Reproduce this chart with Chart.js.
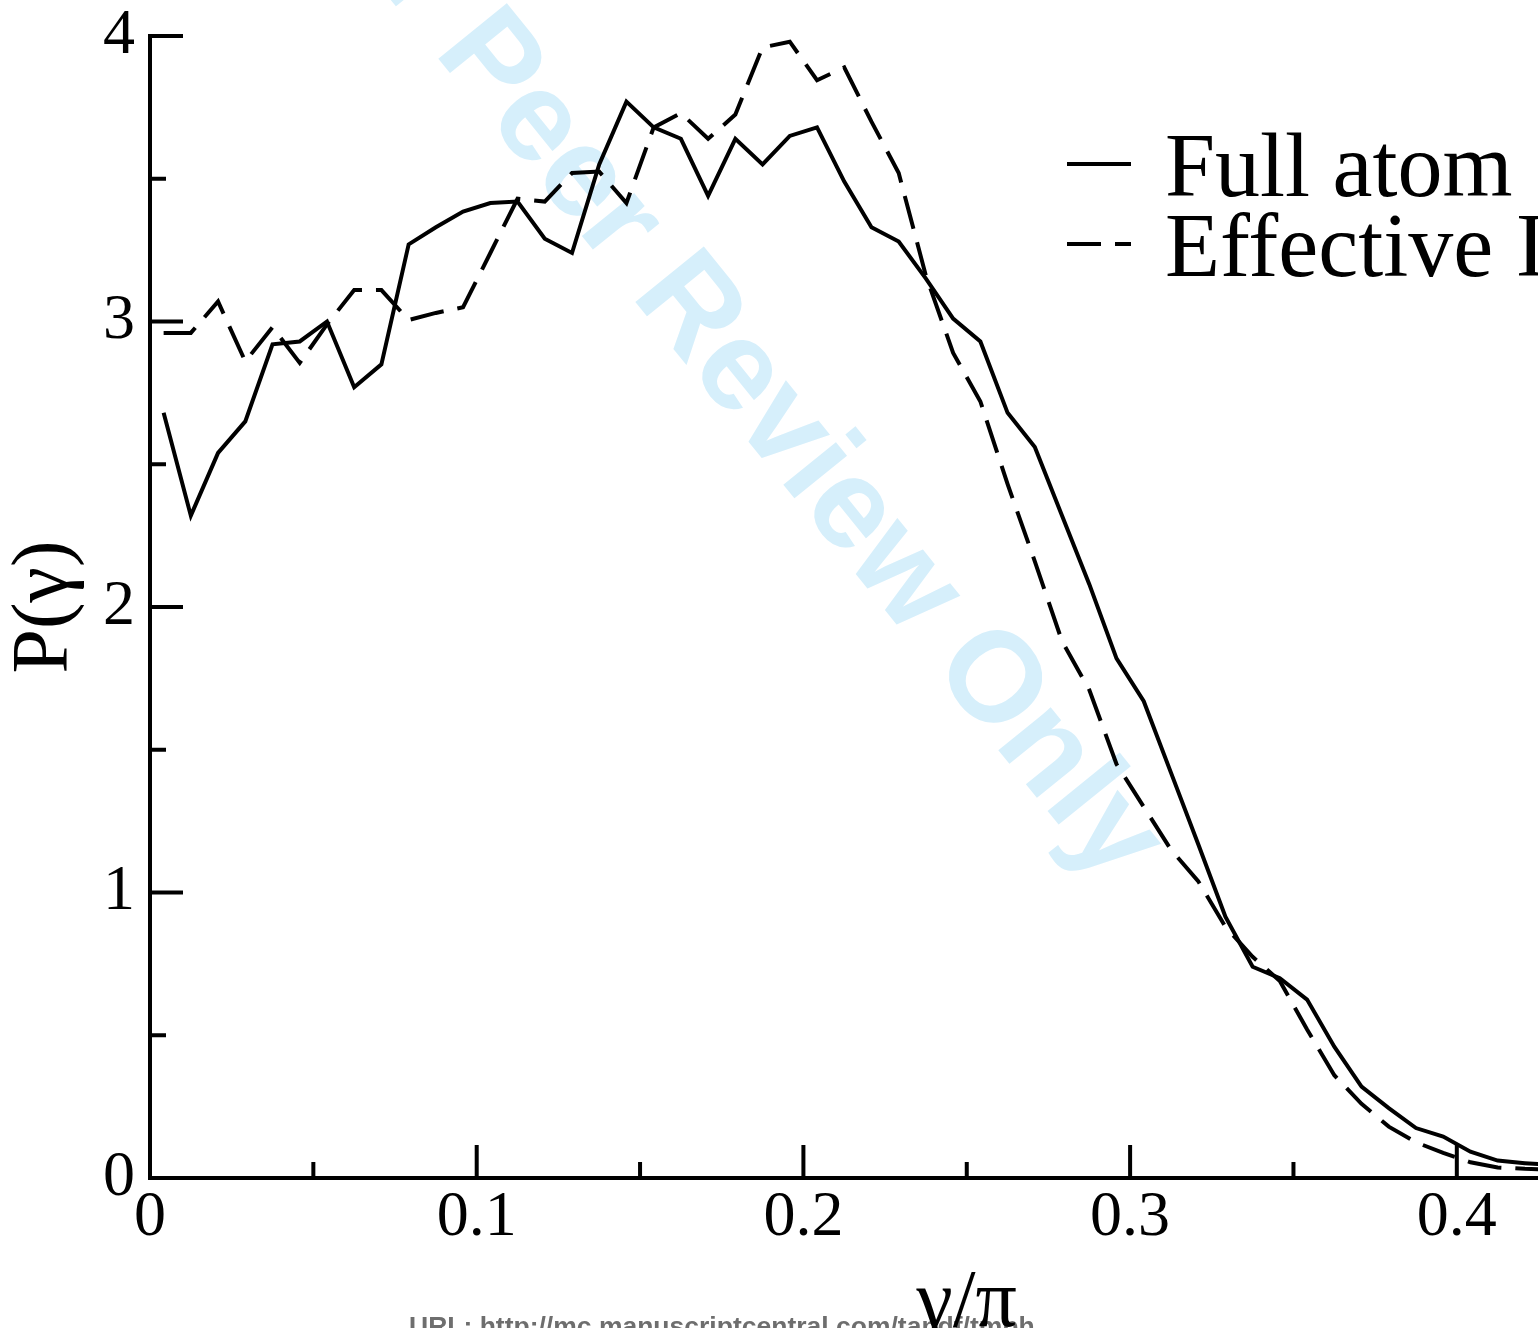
<!DOCTYPE html>
<html>
<head>
<meta charset="utf-8">
<script src="https://cdn.jsdelivr.net/npm/chart.js@4.4.1/dist/chart.umd.min.js"></script>
<style>
html, body { margin: 0; padding: 0; background: #fff; overflow: hidden; }
#wrap { width: 1538px; height: 1328px; position: relative; }
</style>
</head>
<body>
<div id="wrap"><canvas id="angleChart"></canvas></div>
<script>
// bin centres (gamma / pi)
const gammaOverPi = [
    0.00417, 0.0125, 0.02083, 0.02917, 0.0375, 0.04583, 0.05417, 0.0625, 0.07083, 0.07917,
    0.0875, 0.09583, 0.10417, 0.1125, 0.12083, 0.12917, 0.1375, 0.14583, 0.15417, 0.1625,
    0.17083, 0.17917, 0.1875, 0.19583, 0.20417, 0.2125, 0.22083, 0.22917, 0.2375, 0.24583,
    0.25417, 0.2625, 0.27083, 0.27917, 0.2875, 0.29583, 0.30417, 0.3125, 0.32083, 0.32917,
    0.3375, 0.34583, 0.35417, 0.3625, 0.37083, 0.37917, 0.3875, 0.39583, 0.40417, 0.4125,
    0.42083, 0.42917
];
const fullAtom = [
    2.68, 2.32, 2.54, 2.65, 2.92, 2.93, 3.00, 2.77, 2.85, 3.27,
    3.33, 3.385, 3.415, 3.42, 3.29, 3.24, 3.55, 3.77, 3.68, 3.64,
    3.44, 3.64, 3.55, 3.65, 3.68, 3.49, 3.33, 3.28, 3.15, 3.01,
    2.93, 2.68, 2.56, 2.32, 2.08, 1.82, 1.67, 1.42, 1.17, 0.915,
    0.74, 0.70, 0.625, 0.46, 0.32, 0.245, 0.175, 0.145, 0.092, 0.061,
    0.052, 0.045
];
const effective = [
    2.96, 2.96, 3.07, 2.86, 2.98, 2.855, 2.99, 3.11, 3.11, 3.005,
    3.03, 3.05, 3.24, 3.43, 3.42, 3.52, 3.525, 3.415, 3.68, 3.73,
    3.64, 3.725, 3.96, 3.98, 3.845, 3.89, 3.70, 3.52, 3.16, 2.89,
    2.72, 2.43, 2.16, 1.88, 1.71, 1.45, 1.30, 1.15, 1.04, 0.88,
    0.775, 0.69, 0.52, 0.36, 0.26, 0.18, 0.125, 0.088, 0.055, 0.037,
    0.032, 0.03
];
const seriesLabels = ['Full atom', 'Effective Interaction'];
const xTickValues = [0, 0.1, 0.2, 0.3, 0.4];
const xMinorTicks = [0.05, 0.15, 0.25, 0.35];
const yTickValues = [0, 1, 2, 3, 4];
const yMinorTicks = [0.5, 1.5, 2.5, 3.5];

const serif = '"Liberation Serif", "Times New Roman", serif';

// inward ticks, legend, x title, watermark and footer
const decorations = {
    id: 'decorations',
    beforeDatasetsDraw(chart) {
        const ctx = chart.ctx;
        ctx.save();
        ctx.translate(433, 52);
        ctx.rotate(51 * Math.PI / 180);
        ctx.font = 'bold 128px "Liberation Sans", Arial, sans-serif';
        ctx.fillStyle = 'rgb(214, 239, 251)';
        ctx.textBaseline = 'alphabetic';
        const pre = ctx.measureText('For ').width;
        ctx.fillText('For Peer Review Only', -pre, 0);
        ctx.restore();
    },
    afterDraw(chart) {
        const ctx = chart.ctx;
        const xs = chart.scales.x;
        const ys = chart.scales.y;
        const area = chart.chartArea;
        ctx.save();
        ctx.strokeStyle = '#000';
        ctx.lineWidth = 4;
        ctx.lineCap = 'butt';
        ctx.beginPath();
        yTickValues.forEach(v => {
            const p = ys.getPixelForValue(v);
            ctx.moveTo(area.left, p); ctx.lineTo(area.left + 33, p);
        });
        yMinorTicks.forEach(v => {
            const p = ys.getPixelForValue(v);
            ctx.moveTo(area.left, p); ctx.lineTo(area.left + 16, p);
        });
        xTickValues.forEach(v => {
            const p = xs.getPixelForValue(v);
            ctx.moveTo(p, area.bottom); ctx.lineTo(p, area.bottom - 33);
        });
        xMinorTicks.forEach(v => {
            const p = xs.getPixelForValue(v);
            ctx.moveTo(p, area.bottom); ctx.lineTo(p, area.bottom - 16);
        });
        ctx.stroke();

        // legend
        chart.data.datasets.forEach((ds, i) => {
            const ly = 164 + 80 * i;
            ctx.beginPath();
            ctx.setLineDash(ds.borderDash || []);
            ctx.lineWidth = 4;
            ctx.moveTo(1067, ly);
            ctx.lineTo(1131, ly);
            ctx.stroke();
            ctx.setLineDash([]);
            ctx.fillStyle = '#000';
            ctx.font = '90px ' + serif;
            ctx.textAlign = 'left';
            ctx.textBaseline = 'alphabetic';
            ctx.fillText(ds.label, 1165, 196 + 80 * i);
        });

        // footer line of the manuscript page
        ctx.font = 'bold 26.5px "Liberation Sans", Arial, sans-serif';
        ctx.fillStyle = '#6e6e6e';
        ctx.textAlign = 'left';
        ctx.fillText('URL: http://mc.manuscriptcentral.com/tandf/tmph', 409, 1335);

        // x axis title, centred on the original (uncropped) axis
        ctx.font = '82px ' + serif;
        ctx.fillStyle = '#000';
        ctx.textAlign = 'center';
        ctx.fillText('γ/π', xs.getPixelForValue(0.25), 1326);
        ctx.restore();
    }
};

const ctx = document.getElementById('angleChart').getContext('2d');
const angleChart = new Chart(ctx, {
    type: 'line',
    data: {
        datasets: [
            {
                label: seriesLabels[0],
                data: gammaOverPi.map((x, i) => ({ x: x, y: fullAtom[i] })),
                borderColor: '#000',
                borderWidth: 4,
                borderJoinStyle: 'miter',
                pointRadius: 0,
                fill: false,
                tension: 0
            },
            {
                label: seriesLabels[1],
                data: gammaOverPi.map((x, i) => ({ x: x, y: effective[i] })),
                borderColor: '#000',
                borderWidth: 4,
                borderDash: [34, 14],
                borderJoinStyle: 'miter',
                pointRadius: 0,
                fill: false,
                tension: 0
            }
        ]
    },
    options: {
        responsive: true,
        maintainAspectRatio: false,
        animation: false,
        devicePixelRatio: 1,
        layout: { padding: { top: 36, right: 0, bottom: 0, left: 0 } },
        plugins: {
            legend: { display: false },
            tooltip: { enabled: false }
        },
        scales: {
            x: {
                type: 'linear',
                min: 0,
                max: 0.42485,
                afterBuildTicks: s => { s.ticks = xTickValues.map(v => ({ value: v })); },
                afterFit: s => { s.height = 150; s.paddingRight = 0; },
                grid: { display: false, drawTicks: false },
                border: { display: true, color: '#000', width: 4 },
                ticks: {
                    color: '#000',
                    font: { family: serif, size: 64, lineHeight: 1 },
                    padding: 8,
                    maxRotation: 0,
                    autoSkip: false,
                    callback: v => String(v)
                }
            },
            y: {
                min: 0,
                max: 4,
                afterBuildTicks: s => { s.ticks = yTickValues.map(v => ({ value: v })); },
                afterFit: s => { s.width = 150; s.paddingTop = 0; s.paddingBottom = 0; },
                grid: { display: false, drawTicks: false },
                border: { display: true, color: '#000', width: 4 },
                ticks: {
                    color: '#000',
                    font: { family: serif, size: 64, lineHeight: 1 },
                    padding: 15,
                    callback: v => String(v)
                },
                title: {
                    display: true,
                    text: 'P(γ)',
                    color: '#000',
                    font: { family: serif, size: 80, lineHeight: 1 },
                    padding: { top: 6, bottom: 0 }
                }
            }
        }
    },
    plugins: [decorations]
});
</script>
</body>
</html>
